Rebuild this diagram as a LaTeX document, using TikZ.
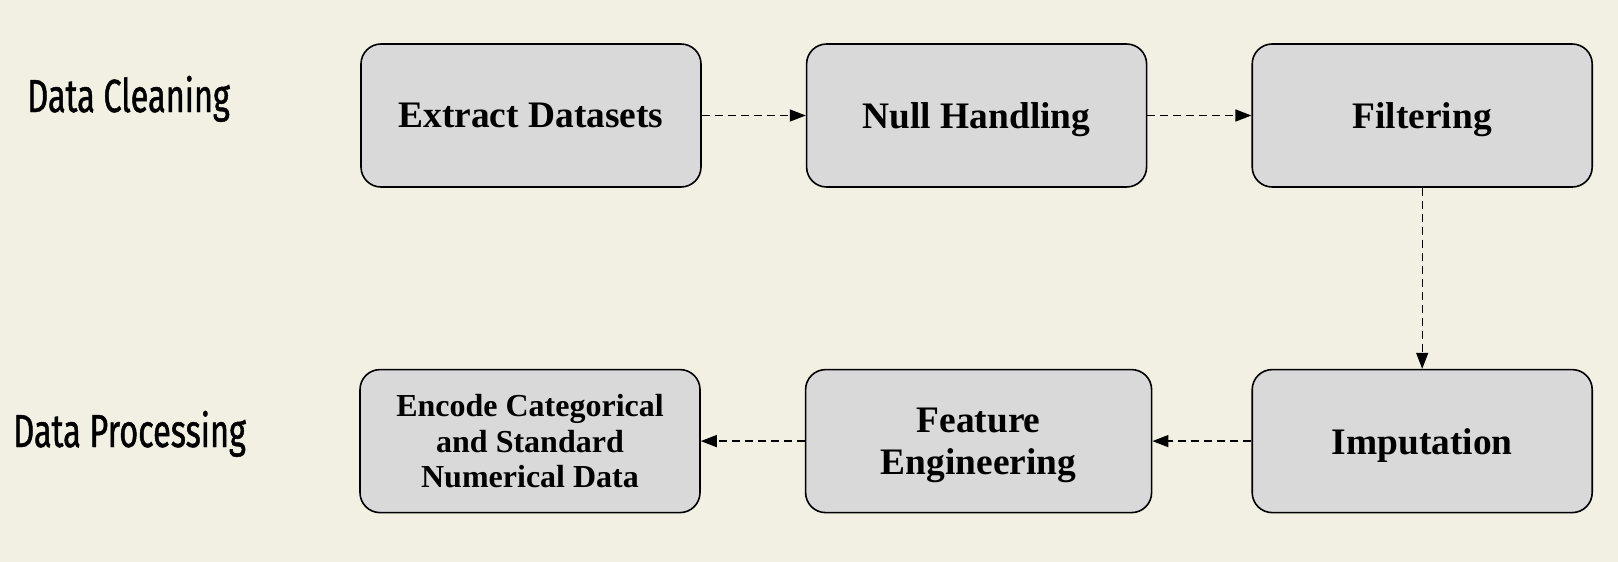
\documentclass[tikz,border=0pt]{standalone}
\usepackage{fontspec}
\setmainfont{Liberation Serif}
\newfontfamily\labelfont[FakeStretch=0.70,FakeBold=1]{Fira Sans}
\usetikzlibrary{positioning, arrows.meta}
\definecolor{bgcream}{HTML}{F2F0E2}
\definecolor{boxgray}{HTML}{D9D9D9}

\begin{document}
\begin{tikzpicture}[
        stage/.style={draw, line width=0.8pt, fill=boxgray, rounded corners=10pt,
            minimum width=170pt, minimum height=71.5pt, align=center, text depth=0pt,
            font=\fontsize{18.7}{21}\selectfont\bfseries},
        flow/.style={-{Triangle[length=8pt,width=6pt]}, line width=0.7pt,
            dash pattern=on 4pt off 2.5pt},
        rowlabel/.style={anchor=base west, inner sep=0pt,
            font=\labelfont\fontsize{23.2}{26}\selectfont},
        node distance=52pt
    ]
            \fill[bgcream] (0,0) rectangle (809pt,-281pt);
            \useasboundingbox (0,0) rectangle (809pt,-281pt);

            \node[rowlabel] (cleaning) at (13.5pt,-56pt) {Data Cleaning};
            \node[rowlabel] (processing) at (6.5pt,-223.5pt) {Data Processing};

            \node[stage] (extract) at (265.5pt,-57.75pt) {Extract Datasets};
            \node[stage, right=of extract] (null) {Null Handling};
            \node[stage, right=of null] (filter) {Filtering};
            \node[stage, below=90.5pt of filter] (impute) {Imputation};
            \node[stage, minimum width=173pt, left=49.5pt of impute] (feature) {Feature\\Engineering};
            \node[stage, left=of feature, font=\fontsize{16}{17.75}\selectfont\bfseries] (encode)
                {Encode Categorical\\and Standard\\Numerical Data};

            \draw[flow] (extract)--(null);
            \draw[flow] (null)--(filter);
            \draw[flow] (filter)--(impute);
            \draw[flow] (impute)--(feature);
            \draw[flow] (feature)--(encode);
        \end{tikzpicture}
\end{document}
